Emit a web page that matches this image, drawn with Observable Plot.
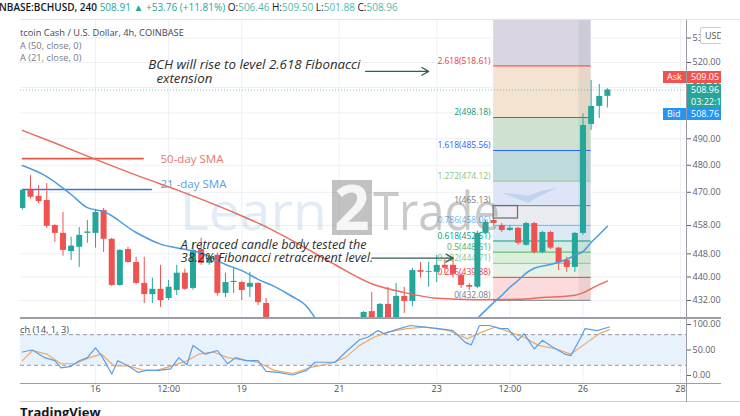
<!DOCTYPE html>
<html><head><meta charset="utf-8">
<script src="https://cdn.jsdelivr.net/npm/d3@7"></script>
<script src="https://cdn.jsdelivr.net/npm/@observablehq/plot@0.6"></script>
<style>
body{margin:0;background:#fff;font-family:"Open Sans",sans-serif;}
#wrap{position:relative;width:740px;height:416px;overflow:hidden;background:#fff;}
.abs{position:absolute;white-space:nowrap;}
.hv{color:#53b9a6;}
.box{position:absolute;color:#fff;font-size:9px;line-height:12px;padding-left:4px;box-sizing:border-box;}
</style></head><body><div id="wrap"></div>
<script>
// ---------- data ----------
const candleTimes = ["14 12:00","14 16:00","14 20:00","15 00:00","15 04:00","15 08:00","15 12:00","15 16:00","15 20:00","16 00:00","16 04:00","16 08:00","16 12:00","16 16:00","16 20:00","17 00:00","17 04:00","17 08:00","17 12:00","17 16:00","17 20:00","18 00:00","18 04:00","18 08:00","18 12:00","18 16:00","18 20:00","19 00:00","19 04:00","19 08:00","19 12:00","21 12:00","21 16:00","21 20:00","22 00:00","22 04:00","22 08:00","22 12:00","22 16:00","22 20:00","23 00:00","23 04:00","23 08:00","23 12:00","23 16:00","23 20:00","24 00:00","24 04:00","24 08:00","24 12:00","24 16:00","24 20:00","25 00:00","25 04:00","25 08:00","25 12:00","25 16:00","25 20:00","26 00:00","26 04:00","26 08:00","26 12:00"];
const opens  = [464.1,470.7,468.5,467.0,458.0,455.2,448.8,450.3,455.2,455.2,463.4,453.1,437.1,449.5,445.0,437.8,434.0,435.8,432.7,435.4,441.3,436.1,449.5,444.7,447.5,434.4,438.1,438.1,436.5,437.8,431.0,424.0,428.3,424.5,430.7,425.0,433.4,431.7,442.2,441.6,441.6,444.0,444.0,440.6,437.1,436.5,455.2,459.8,458.0,456.2,457.0,451.0,458.7,448.5,455.5,450.0,445.7,443.3,455.2,495.5,502.5,506.46];
const highs  = [471.0,476.2,472.5,473.2,458.3,462.7,453.8,457.3,459.8,463.8,464.1,453.5,449.5,450.3,446.8,446.8,439.6,444.0,438.8,444.0,442.7,452.0,453.5,447.5,448.2,441.3,443.3,438.5,441.6,438.1,432.7,428.3,434.7,431.0,436.5,437.8,436.5,443.0,445.0,445.0,447.5,446.0,446.8,441.0,437.8,456.0,459.8,460.5,458.7,458.0,457.3,459.1,459.1,456.0,456.0,450.3,446.8,455.5,499.7,512.8,511.2,509.50];
const lows   = [463.5,467.5,465.9,457.0,452.0,447.2,445.7,443.3,451.7,450.0,448.5,436.8,436.8,444.7,437.4,431.0,431.0,429.7,432.0,433.7,435.4,435.5,444.0,444.0,433.5,433.0,434.4,432.0,433.0,430.3,422.0,423.0,423.0,423.5,424.0,424.0,427.7,430.0,439.6,436.5,438.1,441.0,439.6,436.1,435.4,436.0,455.0,458.0,455.5,456.0,451.0,450.7,447.9,448.0,449.5,442.2,441.6,441.6,454.5,493.2,497.8,501.88];
const closes = [470.7,468.2,466.6,457.7,455.2,449.2,450.7,454.5,455.7,462.7,453.1,437.1,449.2,445.0,437.8,434.0,435.8,432.0,436.5,441.3,435.8,449.2,444.7,446.5,434.4,438.1,438.5,435.4,437.8,431.3,424.0,428.0,424.5,430.7,425.0,433.4,431.7,442.2,441.6,441.9,444.0,443.0,440.9,437.1,436.5,455.2,459.1,458.7,456.2,457.0,451.7,458.7,448.5,455.5,450.0,445.0,443.3,455.2,495.1,502.5,506.4,508.96];

const sma50Times  = ["14 12:00","15 04:00","16 00:00","17 00:00","17 16:00","18 20:00","19 12:00","20 04:00","20 20:00","21 16:00","22 08:00","23 00:00","23 20:00","24 16:00","25 04:00","25 20:00","26 00:00","26 04:00","26 08:00","26 12:00"];
const sma50Values = [493.2,488.4,482.2,475.2,470.9,462.7,457.5,451.4,445.0,437.7,434.7,432.8,432.3,432.4,433.0,433.8,434.6,436.0,437.4,438.6];
const sma21Times  = ["14 12:00","15 00:00","15 12:00","15 20:00","16 04:00","16 20:00","17 08:00","17 20:00","18 04:00","18 16:00","19 00:00","19 08:00","19 16:00","20 00:00","20 08:00","20 12:00","23 16:00","23 20:00","24 00:00","24 04:00","24 08:00","24 12:00","24 16:00","24 20:00","25 00:00","25 08:00","25 16:00","25 20:00","26 00:00","26 04:00","26 08:00","26 12:00"];
const sma21Values = [479.9,475.8,469.2,464.4,463.0,455.5,451.4,449.6,448.3,444.3,442.2,439.2,436.8,433.7,430.0,426.3,null,426.0,428.7,431.3,433.7,436.5,438.8,441.3,443.0,444.3,446.1,447.5,448.8,452.0,454.8,457.7,460.5];

const fibLevels = [0,0.236,0.382,0.5,0.618,0.786,1,1.272,1.618,2,2.618,3.618];
const fibPrices = [432.08,439.88,444.71,448.61,452.51,458.06,465.13,474.12,485.56,498.18,518.61,551.66];
const fibStart = "24 04:00", fibEnd = "26 04:00", fibShadeStart = "25 22:00";

const stochKTimes = ["14 12:00","14 17:00","14 23:00","15 04:00","15 07:00","15 12:00","15 16:00","15 20:00","16 00:00","16 03:00","16 08:00","16 11:00","16 16:00","16 21:00","17 01:00","17 07:00","17 13:00","17 17:00","17 21:00","18 00:00","18 06:00","18 12:00","18 17:00","18 21:00","19 02:00","19 08:00","19 12:00","19 18:00","20 01:00","20 08:00","20 12:00","20 17:00","20 22:00","21 04:00","21 10:00","21 14:00","21 19:00","21 22:00","22 04:00","22 11:00","22 18:00","23 01:00","23 08:00","23 14:00","23 17:00","23 21:00","24 02:00","24 07:00","24 11:00","24 16:00","24 19:00","25 00:00","25 04:00","25 09:00","25 15:00","25 18:00","25 23:00","26 01:00","26 07:00","26 13:00"];
const stochKValues = [46,50,35,29,15,18,29,35,54,39,3,29,19,6,10,10,13,35,21,59,42,49,23,35,29,29,8,6,1,10,26,26,26,49,70,75,88,82,90,98,95,92,88,65,60,98,98,92,92,69,82,52,69,56,42,39,75,92,88,95];
const stochDTimes = ["14 12:00","14 17:00","15 00:00","15 07:00","15 14:00","15 21:00","16 03:00","16 09:00","16 16:00","16 23:00","17 06:00","17 13:00","17 21:00","18 03:00","18 10:00","18 17:00","19 00:00","19 08:00","19 16:00","20 01:00","20 10:00","20 20:00","21 03:00","21 10:00","21 17:00","22 00:00","22 09:00","22 18:00","23 06:00","23 15:00","23 22:00","24 05:00","24 12:00","24 19:00","25 02:00","25 11:00","25 18:00","26 01:00","26 08:00","26 13:00"];
const stochDValues = [29,49,42,23,23,35,42,19,19,11,10,18,29,42,46,35,31,26,10,4,16,24,35,59,75,85,92,95,88,72,85,95,85,75,59,52,42,62,82,90];
const stochLevels = [20,80];

const priceTicks = [432,440,448,458,470,480,490,500,510,520,530];
const stochTicks = [0,50,100];
const timeTicks = ["16 00:00","17 12:00","19 00:00","21 00:00","23 00:00","24 12:00","26 00:00","28 00:00"];
const timeTickLabels = ["16","12:00","19","21","23","12:00","26","28"];

const lastPrice = 508.96, askPrice = 509.05, bidPrice = 508.76;

const horizLines = [
  {from:"14 12:00", to:"17 00:00", price:482.5, kind:"red"},
  {from:"14 12:00", to:"17 04:00", price:471.0, kind:"blue"}
];
const drawnBoxes = [{from:"24 04:00", to:"24 16:00", top:465.0, bottom:460.5}];
const smaLabels = [
  {time:"17 08:00", price:482.3, text:"50-day SMA", kind:"red"},
  {time:"17 08:00", price:473.0, text:"21 -day SMA", kind:"blue"}
];
const notes = [
  {time:"17 02:00", price:519.2, text:"BCH will rise to level 2.618 Fibonacci", size:13.3},
  {time:"17 06:00", price:513.6, text:"extension", size:13.3},
  {time:"17 18:00", price:451.0, text:"A retraced candle body tested the", size:12.6},
  {time:"17 18:00", price:446.6, text:"38.2% Fibonacci retracement level.", size:12.6}
];
const arrows = [
  {from:"21 13:00", to:"22 20:00", price:516.4},
  {from:"21 16:00", to:"23 08:00", price:446.5}
];

// ---------- helpers / styles ----------
const T = s => { const [d, hm] = s.split(" "); const [h, m] = hm.split(":"); return new Date(Date.UTC(2021, 0, +d, +h, +m)); };
const UP = "#26a69a", DOWN = "#ef5350";
const fibLine = ["#787b86","#f23645","#81c784","#4caf50","#089981","#64b5f6","#787b86","#81c784","#2962ff","#089981","#f23645","#9c27b0"];
const fibFill = [null,"#fbdbdb","#e6f2e5","#ddefdc","#d6ece6","#dceaf7","#e9ebf0","#dee5f7","#bedadb","#cfe2cf","#f4e3d0","#d9d6e2"];
const xDomain = [new Date(Date.UTC(2021,0,14,11,5)), new Date(Date.UTC(2021,0,28,2,57))];
const kindColor = {red:"#e8584a", blue:"#3f72dc"};
const labelColor = {red:"#e8776c", blue:"#5b9ee0"};

const candles = candleTimes.map((s,i)=>({t:T(s), o:opens[i], h:highs[i], l:lows[i], c:closes[i]}));
const cColor = d => d.c >= d.o ? UP : DOWN;
const sma50 = sma50Times.map((s,i)=>({t:T(s), v:sma50Values[i]}));
const sma21 = sma21Times.map((s,i)=>({t:T(s), v:sma21Values[i]}));
const fib = fibLevels.map((lv,i)=>({lv, p:fibPrices[i], line:fibLine[i], fill:fibFill[i], prev: i>0 ? fibPrices[i-1] : null}));
const bands = fib.filter(d=>d.prev!=null);
const kLine = stochKTimes.map((s,i)=>({t:T(s), v:stochKValues[i]}));
const dLine = stochDTimes.map((s,i)=>({t:T(s), v:stochDValues[i]}));
const tickDates = timeTicks.map(T);

const baseStyle = {background:"transparent", fontFamily:"Open Sans", fontSize:"9px", color:"#5d606b", overflow:"visible"};

// ---------- main price pane ----------
const main = Plot.plot({
  width:740, height:299, marginLeft:20, marginRight:54, marginTop:0, marginBottom:0,
  style: baseStyle,
  color:{type:"identity"},
  x:{type:"utc", domain:xDomain, axis:null},
  y:{type:"log", domain:[426.0,537.7], axis:"right", ticks:priceTicks, tickFormat:d3.format(".2f"), tickSize:4, tickPadding:2, label:null},
  marks:[
    Plot.ruleY(priceTicks, {stroke:"#eef0f4"}),
    Plot.ruleX(tickDates, {stroke:"#eef0f4"}),
    Plot.rect(bands, {x1:()=>T(fibStart), x2:()=>T(fibEnd), y1:"prev", y2:"p", fill:"fill", clip:true}),
    Plot.rect([fibPrices], {x1:()=>T(fibShadeStart), x2:()=>T(fibEnd), y1:d=>d[0], y2:d=>d[d.length-1], fill:"rgba(110,110,130,0.10)", clip:true}),
    Plot.ruleY(fib, {y:"p", x1:()=>T(fibStart), x2:()=>T(fibEnd), stroke:"line", strokeWidth:1, clip:true}),
    Plot.text(fib.filter(d=>d.lv<3), {x:()=>T(fibStart), y:"p", text:d=>`${d.lv}(${d.p.toFixed(2)})`, fill:"line", textAnchor:"end", dx:-3, dy:-5, fontSize:8.5}),
    Plot.ruleY([lastPrice], {stroke:UP, strokeDasharray:"1,2", strokeOpacity:0.6}),
    Plot.ruleY(horizLines, {y:"price", x1:d=>T(d.from), x2:d=>T(d.to), stroke:d=>kindColor[d.kind], strokeWidth:1.6}),
    Plot.rect(drawnBoxes, {x1:d=>T(d.from), x2:d=>T(d.to), y1:"bottom", y2:"top", fill:"none", stroke:"#6b6b6b", strokeWidth:1.2}),
    Plot.ruleX(candles, {x:"t", y1:"l", y2:"h", stroke:cColor, strokeWidth:1, clip:true}),
    Plot.ruleX(candles, {x:"t", y1:"o", y2:"c", stroke:cColor, strokeWidth:6, clip:true}),
    Plot.line(sma50, {x:"t", y:"v", stroke:"#ec6b5e", strokeWidth:1.5, curve:"monotone-x", clip:true}),
    Plot.line(sma21, {x:"t", y:"v", stroke:"#4c9be0", strokeWidth:1.5, curve:"monotone-x", clip:true}),
    Plot.text(smaLabels, {x:d=>T(d.time), y:"price", text:"text", fill:d=>labelColor[d.kind], textAnchor:"start", fontSize:11.5}),
    Plot.text(notes, {x:d=>T(d.time), y:"price", text:"text", fill:"#2e2e2e", textAnchor:"start", fontStyle:"italic", fontSize:d=>d.size}),
    Plot.arrow(arrows, {x1:d=>T(d.from), x2:d=>T(d.to), y1:"price", y2:"price", stroke:"#2f5f50", strokeWidth:1.3, headLength:9})
  ]
});

// ---------- stochastic pane ----------
const stoch = Plot.plot({
  width:740, height:84, marginLeft:20, marginRight:54, marginTop:2, marginBottom:19,
  style: baseStyle,
  color:{type:"identity"},
  x:{type:"utc", domain:xDomain, axis:null},
  y:{domain:[-15.7,107.8], axis:"right", ticks:stochTicks, tickFormat:d3.format(".2f"), tickSize:4, tickPadding:2, label:null},
  marks:[
    Plot.rect([stochLevels], {y1:d=>d[0], y2:d=>d[1], fill:"#e8f2fd"}),
    Plot.ruleX(tickDates, {stroke:"#eef0f4"}),
    Plot.ruleY(stochLevels, {stroke:"#9598a1", strokeDasharray:"4,3"}),
    Plot.line(dLine, {x:"t", y:"v", stroke:"#f5a766", strokeWidth:1.2, curve:"linear"}),
    Plot.line(kLine, {x:"t", y:"v", stroke:"#5b9ee6", strokeWidth:1.2, curve:"linear"}),
    Plot.text(tickDates, {x:d=>d, frameAnchor:"bottom", dy:8, text:(d,i)=>timeTickLabels[i], fontSize:9, fill:"#4a4d57", fontWeight:(d,i)=>timeTickLabels[i]==="26"?"bold":"normal"})
  ]
});

// ---------- assemble ----------
const wrap = document.getElementById("wrap");
const place = (el, top) => { el.style.position="absolute"; el.style.left="0px"; el.style.top=top+"px"; wrap.appendChild(el); };
place(main, 19);
place(stoch, 318);

const add = (html, css) => { const d=document.createElement("div"); d.className="abs"; d.style.cssText+=css; d.innerHTML=html; wrap.appendChild(d); return d; };

// watermark
const wm = document.createElementNS("http://www.w3.org/2000/svg","svg");
wm.setAttribute("width","740"); wm.setAttribute("height","416");
wm.style.cssText="position:absolute;left:0;top:0;pointer-events:none";
wm.innerHTML = `<text x="180" y="230" font-family="Open Sans" font-size="53" fill="rgba(90,150,205,0.18)" textLength="147" lengthAdjust="spacingAndGlyphs">Learn</text>
<rect x="332" y="180" width="40" height="55" fill="rgba(120,120,120,0.45)"/>
<text x="352" y="230" text-anchor="middle" font-family="Open Sans" font-weight="bold" font-size="62" fill="rgba(255,255,255,0.85)">2</text>
<text x="373" y="230" font-family="Open Sans" font-size="53" fill="rgba(128,128,128,0.42)" textLength="127" lengthAdjust="spacingAndGlyphs">Trade</text>
<path d="M502,193 Q520,200 528,203 Q542,194 558,188 Q540,190 528,196 Q516,193 502,193 Z" fill="rgba(90,150,215,0.22)"/>`;
wrap.appendChild(wm);

// header
add(`<span style="font-weight:600;color:#131722">NBASE:BCHUSD, 240</span> <span style="color:#26a69a">508.91 ▲ +53.76 (+11.81%)</span> <span style="color:#131722">O:</span><span class="hv">506.46</span> <span style="color:#131722">H:</span><span class="hv">509.50</span> <span style="color:#131722">L:</span><span class="hv">501.88</span> <span style="color:#131722">C:</span><span class="hv">508.96</span>`,
  "left:-1px;top:0px;font-size:10px;line-height:14px;");
add("", "left:20px;top:19px;width:720px;height:1px;background:#e0e3eb;");
// legends
add("tcoin Cash / U.S. Dollar, 4h, COINBASE", "left:20px;top:27px;font-size:9.3px;line-height:12px;color:#434651;");
add("A (50, close, 0)", "left:20px;top:40px;font-size:9.3px;line-height:12px;color:#787b86;");
add("A (21, close, 0)", "left:20px;top:52px;font-size:9.3px;line-height:12px;color:#787b86;");
add("ch (14, 1, 3)", "left:20px;top:324px;font-size:9.3px;line-height:12px;color:#434651;");

// pane separators / axis lines
add("", "left:20px;top:317px;width:720px;height:2px;background:#9a9da6;");
add("", "left:20px;top:383px;width:720px;height:1px;background:#9a9da6;");
add("", "left:20px;top:401px;width:720px;height:1px;background:#c9ccd3;");
add("", "left:686px;top:20px;width:1px;height:382px;background:#9a9da6;");

// price labels on the right
const yPage = v => 19 + main.scale("y").apply(v);
const lastTop = Math.round(yPage(lastPrice) - 5.5);
add("Ask", `left:663px;top:${lastTop-13}px;width:23px;height:12px;background:#ef5350;`).className="box";
add(askPrice.toFixed(2), `left:687px;top:${lastTop-13}px;width:40px;height:12px;background:#ef5350;`).className="box";
add(lastPrice.toFixed(2)+"<br>03:22:18", `left:687px;top:${lastTop}px;width:40px;height:24px;background:#26a69a;`).className="box";
add("Bid", `left:663px;top:${lastTop+24}px;width:23px;height:12px;background:#2196f3;`).className="box";
add(bidPrice.toFixed(2), `left:687px;top:${lastTop+24}px;width:40px;height:12px;background:#2196f3;`).className="box";
add("USD", "left:700px;top:27px;width:26px;height:15px;border:1px solid #c9ccd3;border-radius:2px;background:#fff;font-size:9px;line-height:15px;color:#555;text-align:center;");

// right crop
add("", "left:721px;top:20px;width:19px;height:381px;background:#fff;");
// footer
add("TradingView", "left:20px;top:404px;font-size:13px;font-weight:bold;line-height:16px;color:#131722;");
</script></body></html>
